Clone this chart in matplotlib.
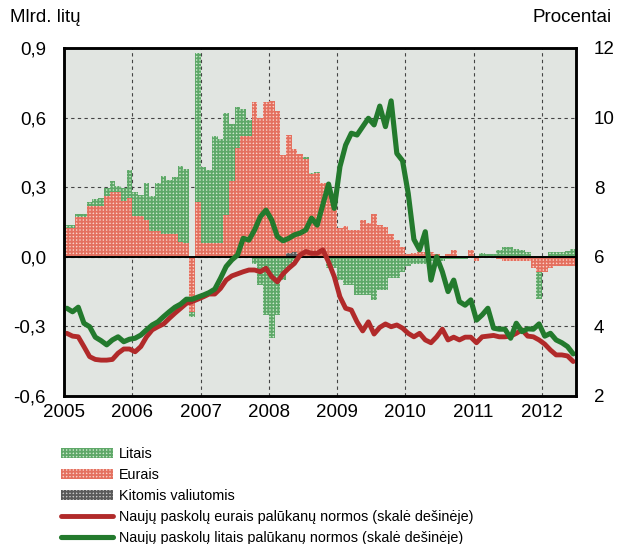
#!/usr/bin/env python3

import numpy as np
import matplotlib
matplotlib.use("Agg")
import matplotlib.pyplot as plt
from matplotlib import font_manager

# prefer a narrow face if one is installed
names = {f.name for f in font_manager.fontManager.ttflist}
narrow = [f for f in ['Liberation Sans Narrow', 'DejaVu Sans Condensed'] if f in names]
plt.rcParams['font.family'] = narrow + ['Liberation Sans', 'DejaVu Sans']
plt.rcParams['hatch.linewidth'] = 1.3

# monthly data, Jan 2005 - Jun 2012 (billion litas)
litai = [
    0.01, 0.01, 0.011, 0.011, 0.015, 0.03, 0.032, 0.035, 0.048, 0.025, 0.055, 0.119,
    0.105, 0.091, 0.16, 0.153, 0.21, 0.25, 0.231, 0.245, 0.326, 0.319, -0.02, 0.643,
    0.33, 0.314, 0.46, 0.446, 0.438, 0.246, 0.176, 0.115, 0.07, -0.03, -0.12, -0.25,
    -0.35, -0.25, -0.10, -0.05, -0.02, 0.0, 0.01, 0.005, 0.007, 0.0, -0.05, -0.05,
    -0.10, -0.12, -0.12, -0.165, -0.165, -0.165, -0.186, -0.143, -0.143, -0.092, -0.092, -0.064,
    -0.04, -0.03, -0.03, -0.03, -0.02, -0.02, -0.02, -0.01, -0.01, -0.01, -0.01, -0.005,
    0.005, 0.01, 0.012, 0.005, 0.03, 0.04, 0.04, 0.035, 0.03, 0.02, 0.005, -0.12,
    0.0, 0.02, 0.02, 0.02, 0.025, 0.035,
]
eurai = [
    0.125, 0.125, 0.173, 0.173, 0.22, 0.22, 0.22, 0.263, 0.28, 0.28, 0.24, 0.255,
    0.175, 0.175, 0.16, 0.11, 0.11, 0.10, 0.10, 0.10, 0.065, 0.058, -0.24, 0.237,
    0.058, 0.06, 0.06, 0.06, 0.18, 0.325, 0.468, 0.52, 0.52, 0.668, 0.60, 0.668,
    0.671, 0.63, 0.44, 0.51, 0.443, 0.434, 0.42, 0.355, 0.36, 0.32, 0.29, 0.25,
    0.123, 0.133, 0.115, 0.115, 0.159, 0.145, 0.183, 0.137, 0.13, 0.10, 0.072, 0.044,
    0.01, 0.015, 0.022, 0.02, 0.02, 0.01, 0.0, 0.01, 0.03, 0.005, 0.0, 0.03,
    -0.02, 0.005, -0.005, 0.005, -0.01, -0.02, -0.02, -0.02, -0.02, -0.02, -0.05, -0.064,
    -0.064, -0.05, -0.04, -0.04, -0.04, -0.04,
]
kitos = [0.0] * 39 + [0.015, 0.02, 0.01] + [0.0] * 48

# interest rates, percent (right axis)
rate_eur = [
    3.80, 3.72, 3.70, 3.42, 3.13, 3.05, 3.03, 3.03, 3.05, 3.23, 3.35, 3.35,
    3.27, 3.42, 3.70, 3.90, 3.99, 4.07, 4.23, 4.38, 4.52, 4.66, 4.71, 4.78,
    4.85, 4.93, 4.93, 5.09, 5.33, 5.45, 5.51, 5.57, 5.62, 5.62, 5.57, 5.67,
    5.43, 5.28, 5.51, 5.67, 5.81, 6.05, 6.15, 6.10, 6.10, 6.20, 5.85, 5.43,
    4.85, 4.52, 4.47, 4.13, 3.87, 4.13, 3.78, 3.97, 4.07, 3.99, 4.04, 3.95,
    3.80, 3.70, 3.80, 3.61, 3.53, 3.70, 3.92, 3.61, 3.69, 3.61, 3.69, 3.69,
    3.53, 3.70, 3.72, 3.74, 3.70, 3.70, 3.72, 3.80, 3.90, 3.72, 3.70, 3.61,
    3.49, 3.32, 3.18, 3.18, 3.15, 2.99,
]
rate_ltl = [
    4.52, 4.42, 4.55, 4.09, 3.99, 3.69, 3.59, 3.47, 3.61, 3.70, 3.56, 3.63,
    3.66, 3.75, 3.90, 4.04, 4.13, 4.28, 4.42, 4.55, 4.64, 4.78, 4.78, 4.84,
    4.90, 4.97, 5.07, 5.38, 5.72, 5.91, 6.05, 6.53, 6.48, 6.77, 7.15, 7.34,
    7.06, 6.58, 6.46, 6.53, 6.63, 6.68, 6.77, 7.11, 6.91, 7.50, 8.09, 7.39,
    8.59, 9.21, 9.55, 9.50, 9.74, 9.98, 9.79, 10.33, 9.74, 10.48, 8.97, 8.76,
    7.82, 6.50, 6.20, 6.72, 5.33, 6.00, 5.57, 5.00, 5.33, 4.71, 4.61, 4.76,
    4.18, 4.33, 4.52, 3.95, 3.92, 3.92, 3.66, 4.09, 3.85, 3.93, 3.92, 4.07,
    3.72, 3.80, 3.61, 3.53, 3.42, 3.21,
]

years = ['2005', '2006', '2007', '2008', '2009', '2010', '2011', '2012']
left_ticks = ['-0,6', '-0,3', '0,0', '0,3', '0,6', '0,9']

n = len(litai)
x = np.arange(n) + 0.5

# sizes: narrow face can be larger for the same width
tick_fs = 14.5 if narrow else 13.5
leg_fs = 11.7 if narrow else 10.4

fig = plt.figure(figsize=(6.18, 5.44), dpi=100)
ax = fig.add_axes([0.1036, 0.2721, 0.8285, 0.6397])
ax.set_facecolor('#e1e5e1')

# stacked columns: other currencies nearest zero, then euro, then litas
pos_bottom = np.zeros(n)
neg_bottom = np.zeros(n)
series = [
    (kitos, 'Kitomis valiutomis', '#c8c8c8', '#5a5a5a'),
    (eurai, 'Eurais', '#f9d2ca', '#e4705f'),
    (litai, 'Litais', '#cfe8cf', '#5ea868'),
]
handles = {}
for vals, name, face, hatch_col in series:
    v = np.array(vals)
    bottom = np.where(v >= 0, pos_bottom, neg_bottom)
    bars = ax.bar(x, v, width=1.0, bottom=bottom, color=face, edgecolor=hatch_col,
                  hatch='+++++', linewidth=0, zorder=2, label=name)
    handles[name] = bars
    pos_bottom = pos_bottom + np.where(v > 0, v, 0)
    neg_bottom = neg_bottom + np.where(v < 0, v, 0)

ax.axhline(0, color='black', linewidth=1.4, zorder=3)

ax.set_xlim(0, n)
ax.set_ylim(-0.6, 0.9)
ax.set_xticks(np.arange(0, n, 12))
ax.set_xticklabels(years, fontsize=tick_fs)
ax.set_yticks([-0.6, -0.3, 0.0, 0.3, 0.6, 0.9])
ax.set_yticklabels(left_ticks, fontsize=tick_fs)
ax.tick_params(axis='both', length=0)
ax.tick_params(axis='y', pad=13)
ax.tick_params(axis='x', pad=6)
ax.grid(True, color='#444444', linestyle=(0, (3, 3)), linewidth=0.8, zorder=1)
ax.set_axisbelow(True)
for sp in ax.spines.values():
    sp.set_linewidth(1.8)

ax2 = ax.twinx()
l1, = ax2.plot(x, rate_eur, color='#b12a2a', linewidth=3.5, solid_capstyle='round',
               label='Naujų paskolų eurais palūkanų normos (skalė dešinėje)')
l2, = ax2.plot(x, rate_ltl, color='#237a2d', linewidth=3.7, solid_capstyle='round',
               label='Naujų paskolų litais palūkanų normos (skalė dešinėje)')
ax2.set_ylim(2, 12)
ax2.set_yticks([2, 4, 6, 8, 10, 12])
ax2.set_yticklabels(['2', '4', '6', '8', '10', '12'], fontsize=tick_fs)
ax2.tick_params(axis='y', length=0, pad=13)
for sp in ax2.spines.values():
    sp.set_linewidth(1.8)

fig.text(10 / 618, 1 - 18 / 544, 'Mlrd. litų', fontsize=tick_fs, ha='left', va='center')
fig.text(612 / 618, 1 - 18 / 544, 'Procentai', fontsize=tick_fs, ha='right', va='center')

leg = fig.legend([handles['Litais'], handles['Eurais'], handles['Kitomis valiutomis'], l1, l2],
                 ['Litais', 'Eurais', 'Kitomis valiutomis',
                  'Naujų paskolų eurais palūkanų normos (skalė dešinėje)',
                  'Naujų paskolų litais palūkanų normos (skalė dešinėje)'],
                 loc='upper left', bbox_to_anchor=(61 / 618, 1 - 447 / 544),
                 frameon=False, fontsize=leg_fs, handlelength=52 / (leg_fs * 100 / 72),
                 handletextpad=0.4, labelspacing=20.8 / (leg_fs * 100 / 72) - 0.95,
                 borderaxespad=0, borderpad=0)

fig.savefig('out.png', dpi=100)
